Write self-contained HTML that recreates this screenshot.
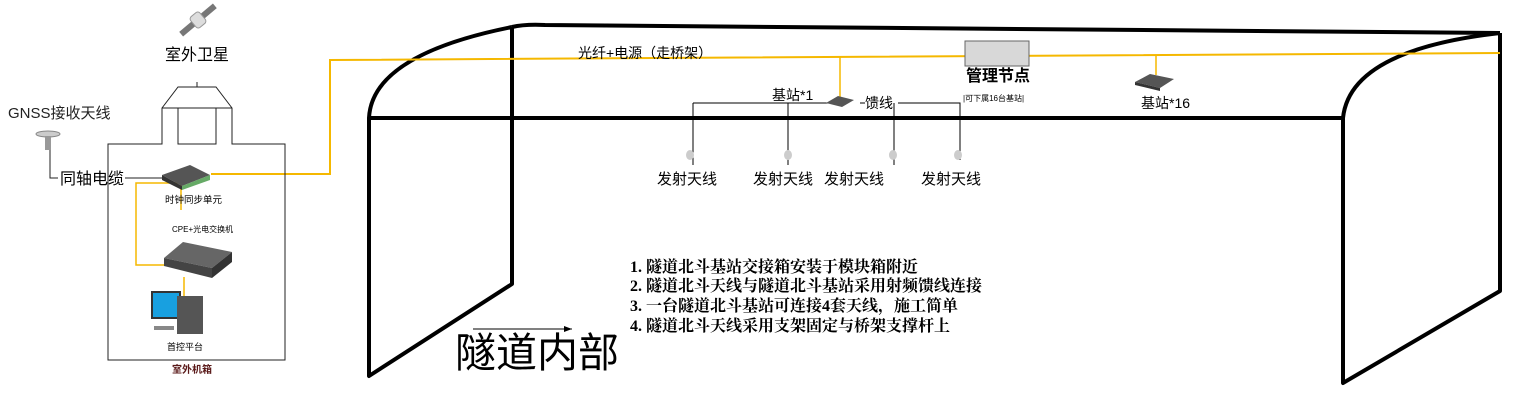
<!DOCTYPE html>
<html><head><meta charset="utf-8"><style>
html,body{margin:0;padding:0;background:#fff;width:1519px;height:400px;overflow:hidden}
svg text{font-family:"Liberation Sans","Noto Sans CJK SC",sans-serif}
.s{font-family:"Liberation Serif","Noto Serif CJK SC",serif!important;font-weight:bold}
</style></head><body>
<svg width="1519" height="400" viewBox="0 0 1519 400" xmlns="http://www.w3.org/2000/svg">
<!-- tunnel -->
<g fill="none" stroke="#000" stroke-width="4" stroke-linejoin="round">
<path d="M512,27 Q525,24 545,25 L1500,33"/>
<path d="M512,27 L512,284 L369,376 L369,118 Q372,55 512,27"/>
<path d="M369,118 L1343,118"/>
<path d="M1500,33 L1500,291 L1343,383 L1343,118 Q1350,50 1500,33"/>
</g>
<!-- yellow fiber -->
<g fill="none" stroke="#f5b800" stroke-width="2">
<path d="M211,174 L330,174 L330,60 L1500,53"/>
<path d="M181,170 L181,210 M181,183 L136,183 L136,265 L165,265" stroke-width="1.5"/>
<path d="M184,277 L184,297" stroke-width="1.5"/>
<path d="M840,57 L840,98" stroke-width="1.5"/>
<path d="M1156,55 L1156,75" stroke-width="1.5"/>
</g>
<!-- outdoor cabinet -->
<g fill="none" stroke="#222" stroke-width="1">
<path d="M108,144 L162,144 L162,108 L178,87 L216,87 L232,108 L232,144 L285,144 L285,360 L108,360 Z"/>
<path d="M162,108 L232,108 M178,108 L178,144 L216,144 L216,108 M197,82 L197,87"/>
<path d="M50,150 L50,178 L58,178 M125,178 L162,178"/>
</g>
<!-- satellite -->
<g transform="translate(198,20) rotate(-40)">
<rect x="-22" y="-3" width="44" height="6" fill="#777"/>
<rect x="-6" y="-7" width="12" height="14" rx="3" fill="#ddd" stroke="#999"/>
</g>
<text x="165" y="60" font-size="16">室外卫星</text>
<text x="8" y="118" font-size="15" fill="#222">GNSS接收天线</text>
<ellipse cx="48" cy="134" rx="12" ry="3" fill="#ccc" stroke="#888"/>
<rect x="45" y="136" width="6" height="14" fill="#999"/>
<text x="60" y="184" font-size="16">同轴电缆</text>
<!-- sync unit -->
<path d="M162,175 L190,165 L210,175 L182,186 Z" fill="#555"/>
<path d="M162,175 L182,186 L182,190 L162,180 Z" fill="#333"/>
<path d="M182,186 L210,175 L210,180 L182,190 Z" fill="#6a6"/>
<text x="165" y="203" font-size="9.5">时钟同步单元</text>
<text x="172" y="232" font-size="8">CPE+光电交换机</text>
<!-- switch -->
<path d="M164,258 L183,242 L232,252 L212,268 Z" fill="#666"/>
<path d="M164,258 L212,268 L212,278 L164,266 Z" fill="#444"/>
<path d="M212,268 L232,252 L232,262 L212,278 Z" fill="#333"/>
<!-- PC -->
<rect x="152" y="292" width="28" height="26" fill="#18a0e0" stroke="#333" stroke-width="2"/>
<rect x="177" y="296" width="26" height="38" fill="#555"/>
<rect x="154" y="326" width="20" height="4" fill="#888"/>
<text x="167" y="350" font-size="9">首控平台</text>
<text x="172" y="373" font-size="10" fill="#5a1a1a" font-weight="bold">室外机箱</text>
<!-- in tunnel -->
<text x="578" y="58" font-size="14">光纤+电源（走桥架）</text>
<rect x="965" y="41" width="64" height="25" fill="#d8d8d8" stroke="#666"/>
<text x="966" y="81" font-size="16" font-weight="bold">管理节点</text>
<text x="963" y="101" font-size="8">|可下属16台基站|</text>
<g fill="none" stroke="#000" stroke-width="1">
<path d="M693,103 L830,103 M860,103 L865,103 M898,103 L960,103 L960,160 M693,103 L693,165 M788,103 L788,165 M894,103 L894,165"/>
</g>
<path d="M826,103 L838,96 L854,100 L842,107 Z" fill="#555"/>
<text x="772" y="100" font-size="14">基站*1</text>
<text x="865" y="108" font-size="14">馈线</text>
<g fill="#ccc">
<ellipse cx="690" cy="155" rx="4" ry="5"/><ellipse cx="788" cy="155" rx="4" ry="5"/>
<ellipse cx="893" cy="155" rx="4" ry="5"/><ellipse cx="958" cy="155" rx="4" ry="5"/>
</g>
<text x="657" y="184" font-size="15">发射天线</text>
<text x="753" y="184" font-size="15">发射天线</text>
<text x="824" y="184" font-size="15">发射天线</text>
<text x="921" y="184" font-size="15">发射天线</text>
<path d="M1135,82 L1150,74 L1174,79 L1160,88 Z" fill="#555"/>
<path d="M1135,82 L1160,88 L1160,91 L1135,85 Z" fill="#333"/>
<text x="1141" y="108" font-size="14">基站*16</text>
<text class="s" x="630" y="272" font-size="16">1. 隧道北斗基站交接箱安装于模块箱附近</text>
<text class="s" x="630" y="291" font-size="16">2. 隧道北斗天线与隧道北斗基站采用射频馈线连接</text>
<text class="s" x="630" y="311" font-size="16">3. 一台隧道北斗基站可连接4套天线，施工简单</text>
<text class="s" x="630" y="331" font-size="16">4. 隧道北斗天线采用支架固定与桥架支撑杆上</text>
<path d="M473,329 L572,329" stroke="#000" stroke-width="1"/>
<path d="M572,329 L564,326 L564,332 Z"/>
<text x="455" y="367" font-size="41">隧道内部</text>
</svg>
</body></html>
